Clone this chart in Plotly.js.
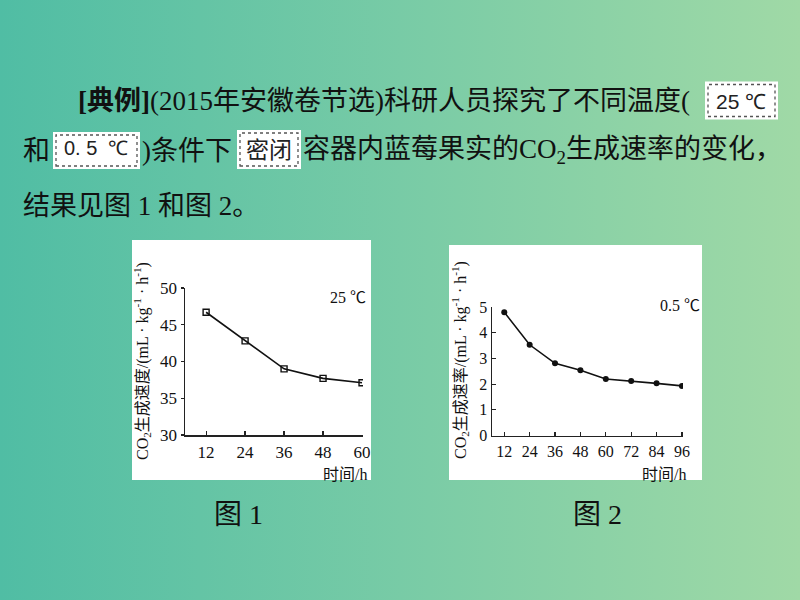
<!DOCTYPE html>
<html>
<head>
<meta charset="utf-8">
<script src="https://cdn.plot.ly/plotly-3.0.1.min.js"></script>
<style>
html,body{margin:0;padding:0;}
body{width:800px;height:600px;overflow:hidden;background:linear-gradient(to right,#50bda4 0%,#78cba6 50%,#a0d9a6 100%);}
#chart{width:800px;height:600px;}
</style>
</head>
<body>
<div id="chart"></div>
<script>
// Figure 1: 25 °C
const hours1 = [12, 24, 36, 48, 60];
const rate1 = [46.7, 42.8, 39.0, 37.7, 37.1];
const yTicks1 = [30, 35, 40, 45, 50];
// Figure 2: 0.5 °C
const hours2 = [12, 24, 36, 48, 60, 72, 84, 96];
const rate2 = [4.8, 3.53, 2.81, 2.54, 2.2, 2.12, 2.03, 1.93];
const yTicks2 = [0, 1, 2, 3, 4, 5];

const W = 800, H = 600;
const px = x => x / W;
const py = y => 1 - y / H;

const serif = "Liberation Serif, Noto Sans CJK SC, serif";
const txtColor = "#111";

const traces = [
  {x: hours1, y: rate1, xaxis: 'x', yaxis: 'y', type: 'scatter', mode: 'lines+markers',
   line: {color: '#111', width: 1.6},
   marker: {symbol: 'square-open', size: 6, color: '#111', line: {width: 1.4, color: '#111'}},
   hoverinfo: 'skip', showlegend: false},
  {x: hours2, y: rate2, xaxis: 'x2', yaxis: 'y2', type: 'scatter', mode: 'lines+markers',
   line: {color: '#111', width: 1.6},
   marker: {symbol: 'circle', size: 6, color: '#111'},
   hoverinfo: 'skip', showlegend: false}
];

const axisCommon = {
  showgrid: false, zeroline: false, showline: true, linecolor: '#222', linewidth: 1.5,
  ticks: 'inside', ticklen: 4, tickwidth: 1.2, tickcolor: '#222', fixedrange: true
};

const layout = {
  width: W, height: H,
  margin: {l: 0, r: 0, t: 0, b: 0},
  paper_bgcolor: 'rgba(0,0,0,0)', plot_bgcolor: 'rgba(0,0,0,0)',
  showlegend: false,
  xaxis: Object.assign({}, axisCommon, {
    domain: [px(185), px(363)], range: [5.5, 60.3], anchor: 'y',
    tickvals: hours1, ticktext: hours1.map(String), ticklabelstandoff: 1,
    tickfont: {family: serif, size: 17, color: txtColor}
  }),
  yaxis: Object.assign({}, axisCommon, {
    domain: [py(435), py(288)], range: [30, 50], anchor: 'x',
    tickvals: yTicks1, ticktext: yTicks1.map(String), ticks: 'outside', ticklen: 3,
    tickfont: {family: serif, size: 17, color: txtColor}
  }),
  xaxis2: Object.assign({}, axisCommon, {
    domain: [px(492), px(683)], range: [6.2, 96.5], anchor: 'y2',
    tickvals: hours2, ticktext: hours2.map(String), ticklabelstandoff: 1,
    tickfont: {family: serif, size: 16, color: txtColor}
  }),
  yaxis2: Object.assign({}, axisCommon, {
    domain: [py(435.5), py(307)], range: [0, 5], anchor: 'x2',
    tickvals: yTicks2, ticktext: yTicks2.map(String),
    tickfont: {family: serif, size: 16, color: txtColor}
  }),
  shapes: [
    // white chart panels
    {type: 'rect', xref: 'paper', yref: 'paper', x0: px(132), x1: px(371), y0: py(480), y1: py(240),
     fillcolor: '#fff', line: {width: 0}, layer: 'below'},
    {type: 'rect', xref: 'paper', yref: 'paper', x0: px(449), x1: px(702), y0: py(480), y1: py(245),
     fillcolor: '#fff', line: {width: 0}, layer: 'below'},
    // highlighted boxes in the text
    {type: 'rect', xref: 'paper', yref: 'paper', x0: px(705), x1: px(778), y0: py(119.5), y1: py(81.5),
     fillcolor: '#fff', line: {width: 0}, layer: 'below'},
    {type: 'rect', xref: 'paper', yref: 'paper', x0: px(708), x1: px(775), y0: py(116.5), y1: py(84.5),
     fillcolor: 'rgba(0,0,0,0)', line: {width: 1.3, color: '#555', dash: 'dot'}, layer: 'below'},
    {type: 'rect', xref: 'paper', yref: 'paper', x0: px(53), x1: px(140), y0: py(169), y1: py(132),
     fillcolor: '#fff', line: {width: 0}, layer: 'below'},
    {type: 'rect', xref: 'paper', yref: 'paper', x0: px(56), x1: px(137), y0: py(166), y1: py(135),
     fillcolor: 'rgba(0,0,0,0)', line: {width: 1.3, color: '#555', dash: 'dot'}, layer: 'below'},
    {type: 'rect', xref: 'paper', yref: 'paper', x0: px(237), x1: px(301), y0: py(169), y1: py(130),
     fillcolor: '#fff', line: {width: 0}, layer: 'below'},
    {type: 'rect', xref: 'paper', yref: 'paper', x0: px(240), x1: px(298), y0: py(166), y1: py(133),
     fillcolor: 'rgba(0,0,0,0)', line: {width: 1.3, color: '#555', dash: 'dot'}, layer: 'below'}
  ],
  annotations: []
};

function ann(text, x, y, opts) {
  layout.annotations.push(Object.assign({
    text: text, xref: 'paper', yref: 'paper', x: px(x), y: py(y),
    xanchor: 'left', yanchor: 'middle', showarrow: false,
    font: {family: serif, size: 27, color: txtColor}
  }, opts || {}));
}

// Paragraph text
ann('<b>[典例]</b>(2015年安徽卷节选)科研人员探究了不同温度(', 76, 101);
ann('25 ℃', 741, 101, {xanchor: 'center', font: {family: 'Liberation Sans, sans-serif', size: 21, color: '#222'}});
ann('和', 21, 151);
ann('0. 5  ℃', 96, 148, {xanchor: 'center', font: {family: 'Liberation Sans, sans-serif', size: 20, color: '#222'}});
ann(')条件下', 140, 151);
ann('密闭', 269, 148, {xanchor: 'center', font: {family: 'Noto Sans CJK SC, sans-serif', size: 23, color: '#222'}});
ann('容器内蓝莓果实的CO<sub>2</sub>生成速率的变化，', 301, 151);
ann('结果见图 1 和图 2。', 21, 206);

// Figure captions
ann('图 1', 238, 514, {xanchor: 'center', font: {family: serif, size: 28, color: txtColor}});
ann('图 2', 597, 514, {xanchor: 'center', font: {family: serif, size: 28, color: txtColor}});

// Chart 1 labels
ann('CO<sub>2</sub>生成速度/(mL · kg<sup>-1</sup> · h<sup>-1</sup>)', 142, 361,
    {xanchor: 'center', textangle: -90, font: {family: serif, size: 16, color: txtColor}});
ann('25 ℃', 348, 298, {xanchor: 'center', font: {family: serif, size: 16, color: txtColor}});
ann('时间/h', 345, 474, {xanchor: 'center', font: {family: serif, size: 16, color: txtColor}});

// Chart 2 labels
ann('CO<sub>2</sub>生成速率/(mL · kg<sup>-1</sup> · h<sup>-1</sup>)', 460, 360,
    {xanchor: 'center', textangle: -90, font: {family: serif, size: 16, color: txtColor}});
ann('0.5 ℃', 680, 305, {xanchor: 'center', font: {family: serif, size: 16, color: txtColor}});
ann('时间/h', 664, 474, {xanchor: 'center', font: {family: serif, size: 16, color: txtColor}});

Plotly.newPlot('chart', traces, layout, {staticPlot: true, displayModeBar: false});
</script>
</body>
</html>
